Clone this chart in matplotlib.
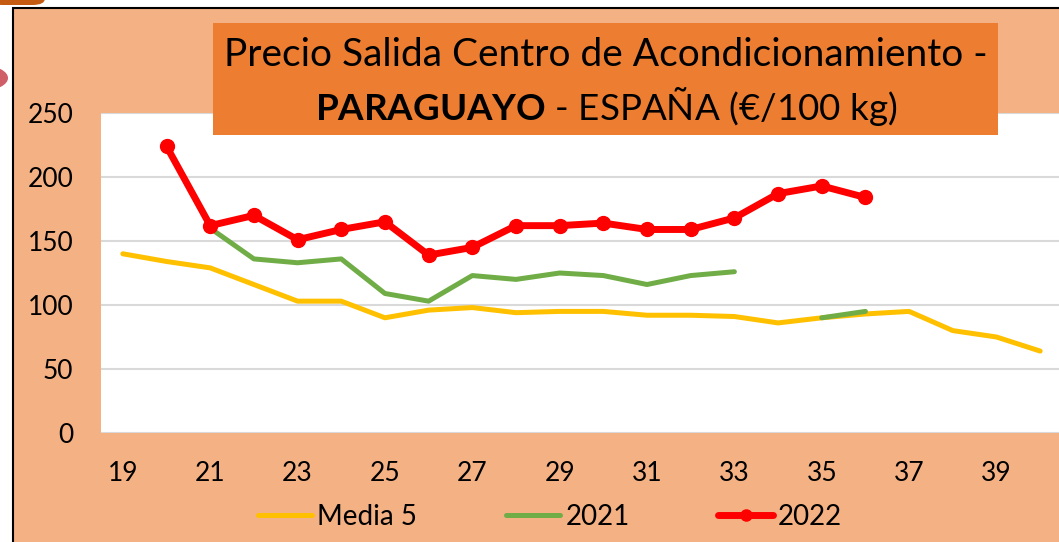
import numpy as np
import matplotlib
matplotlib.use("Agg")
import matplotlib.pyplot as plt
from matplotlib.patches import Rectangle, FancyBboxPatch, Circle
from matplotlib.lines import Line2D

plt.rcParams["font.family"] = ["Lato", "DejaVu Sans"]
plt.rcParams["mathtext.fontset"] = "custom"
plt.rcParams["mathtext.bf"] = "Lato:bold"
plt.rcParams["mathtext.rm"] = "Lato"

weeks = list(range(19, 41))
nan = np.nan
media5 = [140, 134, 129, 116, 103, 103, 90, 96, 98, 94, 95, 95,
          92, 92, 91, 86, 90, 93, 95, 80, 75, 64]
y2021 = [nan, nan, 160, 136, 133, 136, 109, 103, 123, 120, 125, 123,
         116, 123, 126, nan, 90, 95, nan, nan, nan, nan]
y2022 = [nan, 224, 162, 170, 151, 159, 165, 139, 145, 162, 162, 164,
         159, 159, 168, 187, 193, 184, nan, nan, nan, nan]

W, H = 1059, 542
peach = "#F4B183"
orange = "#ED7D31"

def fx(x):
    return x / W

def fy(y):
    return 1 - y / H

fig = plt.figure(figsize=(W / 100, H / 100), dpi=100, facecolor="white")

# slide background
fig.add_artist(Rectangle((fx(13), -0.01), 1.0, fy(8) + 0.01, transform=fig.transFigure,
                         facecolor=peach, edgecolor="black", lw=1.5, zorder=0))
fig.add_artist(FancyBboxPatch((fx(-10), fy(5)), fx(55), 0.03, boxstyle="round,pad=0,rounding_size=0.012",
                              transform=fig.transFigure, facecolor="#C55A11", edgecolor="none", zorder=0))
fig.add_artist(Circle((fx(-16), fy(78)), fx(24), transform=fig.transFigure,
                      facecolor="#C8424F", edgecolor="none", alpha=0.85, zorder=0))

ax = fig.add_axes([fx(101), fy(433), fx(1062) - fx(101), fy(113) - fy(433)])
ax.set_facecolor("white")

ax.plot(weeks, media5, color="#FFC000", lw=3.6, solid_capstyle="round", zorder=3)
ax.plot(weeks, y2021, color="#70AD47", lw=3.6, solid_capstyle="round", zorder=4)
ax.plot(weeks, y2022, color="#FF0000", lw=5, marker="o", ms=10, solid_capstyle="round", zorder=5)

ax.set_xlim(18.5, 40.5)
ax.set_ylim(0, 250)
ax.set_xticks(range(19, 41, 2))
ax.set_yticks(range(0, 251, 50))
ax.grid(axis="y", color="#D9D9D9", lw=1.5)
ax.set_axisbelow(True)
for s in ax.spines.values():
    s.set_visible(False)
ax.tick_params(length=0, labelsize=19, colors="black")
ax.tick_params(axis="y", pad=20)
ax.tick_params(axis="x", pad=20)

# title box
fig.add_artist(Rectangle((fx(213), fy(135)), fx(998) - fx(213), fy(23) - fy(135),
                         transform=fig.transFigure, facecolor=orange, edgecolor="none", zorder=10))
fig.text(fx(606), fy(55), "Precio Salida Centro de Acondicionamiento -", ha="center", va="center",
         fontsize=28, zorder=11)
fig.text(fx(606), fy(106), r"$\mathbf{PARAGUAYO}$ - ESPAÑA (€/100 kg)", ha="center", va="center",
         fontsize=26.5, zorder=11)

handles = [Line2D([], [], color="#FFC000", lw=3.6, solid_capstyle="round"),
           Line2D([], [], color="#70AD47", lw=3.6, solid_capstyle="round"),
           Line2D([], [], color="#FF0000", lw=5, marker="o", ms=8, solid_capstyle="round")]
fig.legend(handles, ["Media 5", "2021", "2022"], loc="center", bbox_to_anchor=(fx(550), fy(517)),
           ncol=3, frameon=False, fontsize=20, handlelength=1.95, handletextpad=0.18, columnspacing=3.2)

fig.savefig("out.png", dpi=100, facecolor="white")
